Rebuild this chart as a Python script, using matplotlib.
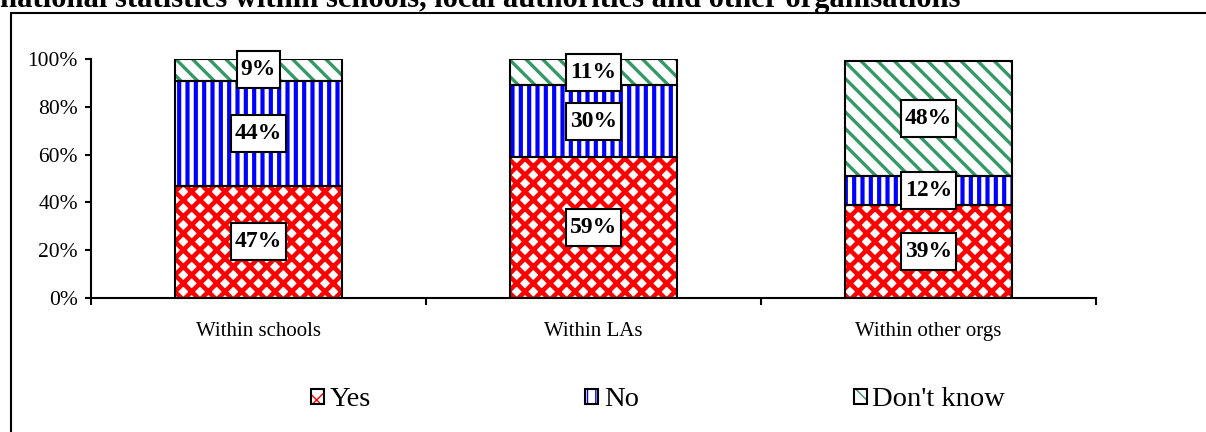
import matplotlib
matplotlib.use('Agg')
import matplotlib.pyplot as plt
import numpy as np
from matplotlib.patches import Rectangle, Patch
from matplotlib.legend_handler import HandlerTuple
from matplotlib.transforms import IdentityTransform

title = 'national statistics within schools, local authorities and other organisations'
categories = ['Within schools', 'Within LAs', 'Within other orgs']
series_names = ['Yes', 'No', "Don't know"]
yes = [47, 59, 39]
no = [44, 30, 12]
dont_know = [9, 11, 48]
yticks = [0, 20, 40, 60, 80, 100]

plt.rcParams['font.family'] = ['Liberation Serif', 'DejaVu Serif']

W, H = 1206, 432
fig = plt.figure(figsize=(W / 100, H / 100), dpi=100)
ax = fig.add_axes([91 / W, 1 - 298 / H, (1096 - 91) / W, (298 - 59) / H])

# fill colour, hatch, hatch line width
styles = [('#FF0000', 'xx', 3.3), ('#0000FF', '||', 3.0), ('#339966', '\\\\', 2.4)]

x = np.arange(len(categories))
bottom = np.zeros(len(categories))
labels = []
for vals, (col, hatch, hlw) in zip([yes, no, dont_know], styles):
    vals = np.array(vals, dtype=float)
    with plt.rc_context({'hatch.linewidth': hlw}):
        bars = ax.bar(x, vals, 0.5, bottom=bottom, color='white',
                      edgecolor=col, hatch=hatch, linewidth=0, zorder=2)
        for b in bars:
            if hasattr(b, 'set_hatch_linewidth'):
                b.set_hatch_linewidth(hlw)
    ax.bar(x, vals, 0.5, bottom=bottom, fill=False, edgecolor='black',
           linewidth=1.5, zorder=3)
    for xi, b0, v in zip(x, bottom, vals):
        t = ax.text(xi, b0 + v / 2, f'{v:.0f}%', ha='center', va='center',
                    fontsize=17, fontweight='bold', zorder=6)
        labels.append(t)
    bottom += vals

ax.set_xlim(-0.5, len(categories) - 0.5)
ax.set_ylim(0, 100)
ax.set_yticks(yticks)
ax.set_yticklabels([f'{v}%' for v in yticks])
ax.set_xticks(np.arange(len(categories) + 1) - 0.5)
ax.set_xticklabels([])
ax.set_xticks(x, minor=True)
ax.set_xticklabels(categories, minor=True)
ax.tick_params(axis='y', direction='out', length=4.5, width=1.5, pad=5, labelsize=15.5)
ax.tick_params(axis='x', which='major', direction='out', length=5, width=1.5)
ax.tick_params(axis='x', which='minor', length=0, pad=17, labelsize=15)
for s in ['top', 'right']:
    ax.spines[s].set_visible(False)
for s in ['left', 'bottom']:
    ax.spines[s].set_linewidth(1.5)

# outer frame and heading
fig.add_artist(Rectangle((11 / W, -0.1), 1.2, 1 - 13 / H + 0.1, transform=fig.transFigure,
                         fill=False, edgecolor='black', linewidth=1.5, clip_on=False))
fig.text(0.0, 1 - 7 / H, title, fontsize=22, fontweight='bold', ha='left', va='baseline')

leg_handles = []
for col, hatch, hlw in styles:
    h1 = Patch(facecolor='white', edgecolor=col, hatch=hatch, linewidth=0)
    h2 = Patch(facecolor='none', edgecolor='black', linewidth=1.5)
    leg_handles.append((h1, h2))
fig.legend(leg_handles, series_names, handler_map={tuple: HandlerTuple(ndivide=1, pad=0)},
           ncol=3, loc='center', bbox_to_anchor=(658 / W, 1 - 400 / H), frameon=False,
           fontsize=20.5, handlelength=0.45, handleheight=0.45, handletextpad=0.2,
           columnspacing=7.55)

# white boxes behind the value labels
fig.canvas.draw()
renderer = fig.canvas.get_renderer()
for t in labels:
    bb = t.get_window_extent(renderer)
    ax.add_artist(Rectangle((bb.x0 - 4, bb.y0 - 8), bb.width + 8, bb.height + 16,
                            transform=IdentityTransform(), facecolor='white',
                            edgecolor='black', linewidth=1.5, zorder=5, clip_on=False))

fig.savefig('out.png', dpi=100)
